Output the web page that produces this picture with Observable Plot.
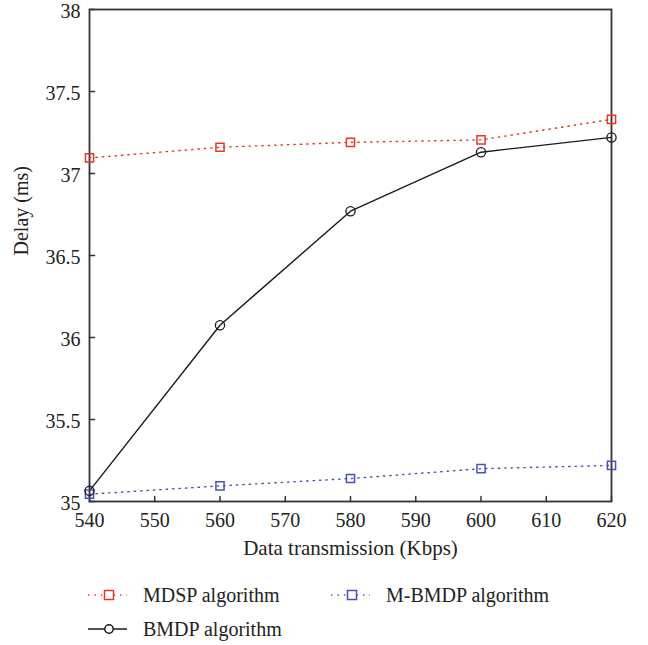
<!DOCTYPE html>
<html>
<head>
<meta charset="utf-8">
<script src="https://cdn.jsdelivr.net/npm/d3@7"></script>
<script src="https://cdn.jsdelivr.net/npm/@observablehq/plot@0.6"></script>
<style>
  html, body { margin: 0; padding: 0; background: #fff; }
  body { width: 648px; height: 645px; position: relative; font-family: 'Liberation Serif', serif; }
  #legend { position: absolute; left: 0; top: 560px; width: 648px; height: 85px; }
  .item { position: absolute; display: flex; align-items: center; font-size: 20px; color: #222; font-family: 'Liberation Serif', serif; }
  .item svg { margin-right: 12px; }
</style>
</head>
<body>
<div id="chart"></div>
<div id="legend"></div>
<script>
const rates = [540, 560, 580, 600, 620];
const mdsp = [37.095, 37.16, 37.19, 37.205, 37.33];
const bmdp = [35.065, 36.075, 36.77, 37.13, 37.22];
const mbmdp = [35.045, 35.095, 35.14, 35.2, 35.22];
const xTicks = [540, 550, 560, 570, 580, 590, 600, 610, 620];
const yTicks = [35, 35.5, 36, 36.5, 37, 37.5, 38];
const yTickLabels = ["35", "35.5", "36", "36.5", "37", "37.5", "38"];

const red = "#e8352b";
const blue = "#4a50b8";
const black = "#1a1a1a";
const FONT = "Liberation Serif, serif";

const mk = (vals) => rates.map((x, i) => ({x, y: vals[i]}));
const dMDSP = mk(mdsp), dBMDP = mk(bmdp), dMB = mk(mbmdp);

const tickShape = { draw(ctx, l) { ctx.moveTo(0, 0); ctx.lineTo(0, -l); } };

const chart = Plot.plot({
  width: 648,
  height: 560,
  marginLeft: 89,
  marginRight: 37,
  marginTop: 9,
  marginBottom: 59,
  style: { fontFamily: FONT, fontSize: "20px", color: "#222", background: "white" },
  x: { domain: [540, 620] },
  y: { domain: [35, 38] },
  marks: [
    Plot.axisX(xTicks, { tickSize: 0, tickPadding: 11, fontSize: 20, fontFamily: FONT, label: null }),
    Plot.axisY(yTicks, { tickSize: 0, tickPadding: 9, dy: 2, fontSize: 20, fontFamily: FONT, label: null, tickFormat: (d) => yTickLabels[yTicks.indexOf(d)] }),
    Plot.vector(xTicks, { x: d => d, y: 35, length: 5, rotate: 0, anchor: "start", shape: tickShape, stroke: "#333", strokeWidth: 1.5 }),
    Plot.vector(yTicks, { x: 540, y: d => d, length: 5, rotate: 90, anchor: "start", shape: tickShape, stroke: "#333", strokeWidth: 1.5 }),
    Plot.frame({ stroke: "#333", strokeWidth: 1.8 }),
    Plot.line(dMDSP, { x: "x", y: "y", stroke: red, strokeWidth: 1.4, strokeDasharray: "1.4,5" }),
    Plot.line(dMB, { x: "x", y: "y", stroke: blue, strokeWidth: 1.4, strokeDasharray: "1.4,5" }),
    Plot.line(dBMDP, { x: "x", y: "y", stroke: black, strokeWidth: 1.4 }),
    Plot.dot(dMDSP, { x: "x", y: "y", symbol: "square", r: 4.6, stroke: red, strokeWidth: 1.5, fill: "none" }),
    Plot.dot(dMB, { x: "x", y: "y", symbol: "square", r: 4.6, stroke: blue, strokeWidth: 1.5, fill: "none" }),
    Plot.dot(dBMDP, { x: "x", y: "y", r: 4.6, stroke: black, strokeWidth: 1.3, fill: "none" }),
    Plot.text(["Data transmission (Kbps)"], { x: 580, y: 35, dy: 47, fontSize: 21, fontFamily: FONT, textAnchor: "middle", fill: "#222" }),
    Plot.text(["Delay (ms)"], { frameAnchor: "left", dx: -68, rotate: -90, fontSize: 20, fontFamily: FONT, fill: "#222" })
  ]
});
document.getElementById("chart").appendChild(chart);

// legend
const legendItems = [
  { label: "MDSP algorithm", color: red, dash: "1.4,5", symbol: "square", left: 87, top: 35 },
  { label: "M-BMDP algorithm", color: blue, dash: "1.4,5", symbol: "square", left: 330, top: 35 },
  { label: "BMDP algorithm", color: black, dash: null, symbol: "circle", left: 87, top: 69 }
];
const legend = document.getElementById("legend");
for (const it of legendItems) {
  const div = document.createElement("div");
  div.className = "item";
  div.style.left = it.left + "px";
  div.style.top = (it.top - 14) + "px";
  div.style.height = "28px";
  const w = 44;
  const ns = "http://www.w3.org/2000/svg";
  const s = document.createElementNS(ns, "svg");
  s.setAttribute("width", w); s.setAttribute("height", 14);
  const ln = document.createElementNS(ns, "line");
  ln.setAttribute("x1", 1); ln.setAttribute("x2", w - 4); ln.setAttribute("y1", 7); ln.setAttribute("y2", 7);
  ln.setAttribute("stroke", it.color); ln.setAttribute("stroke-width", 1.4);
  if (it.dash) ln.setAttribute("stroke-dasharray", it.dash);
  s.appendChild(ln);
  let m;
  if (it.symbol === "square") {
    m = document.createElementNS(ns, "rect");
    m.setAttribute("x", 17.5); m.setAttribute("y", 2.5); m.setAttribute("width", 9); m.setAttribute("height", 9);
  } else {
    m = document.createElementNS(ns, "circle");
    m.setAttribute("cx", 22); m.setAttribute("cy", 7); m.setAttribute("r", 4.2);
  }
  m.setAttribute("fill", "white"); m.setAttribute("stroke", it.color); m.setAttribute("stroke-width", 1.5);
  s.appendChild(m);
  div.appendChild(s);
  const span = document.createElement("span");
  span.textContent = it.label;
  div.appendChild(span);
  legend.appendChild(div);
}
</script>
</body>
</html>
